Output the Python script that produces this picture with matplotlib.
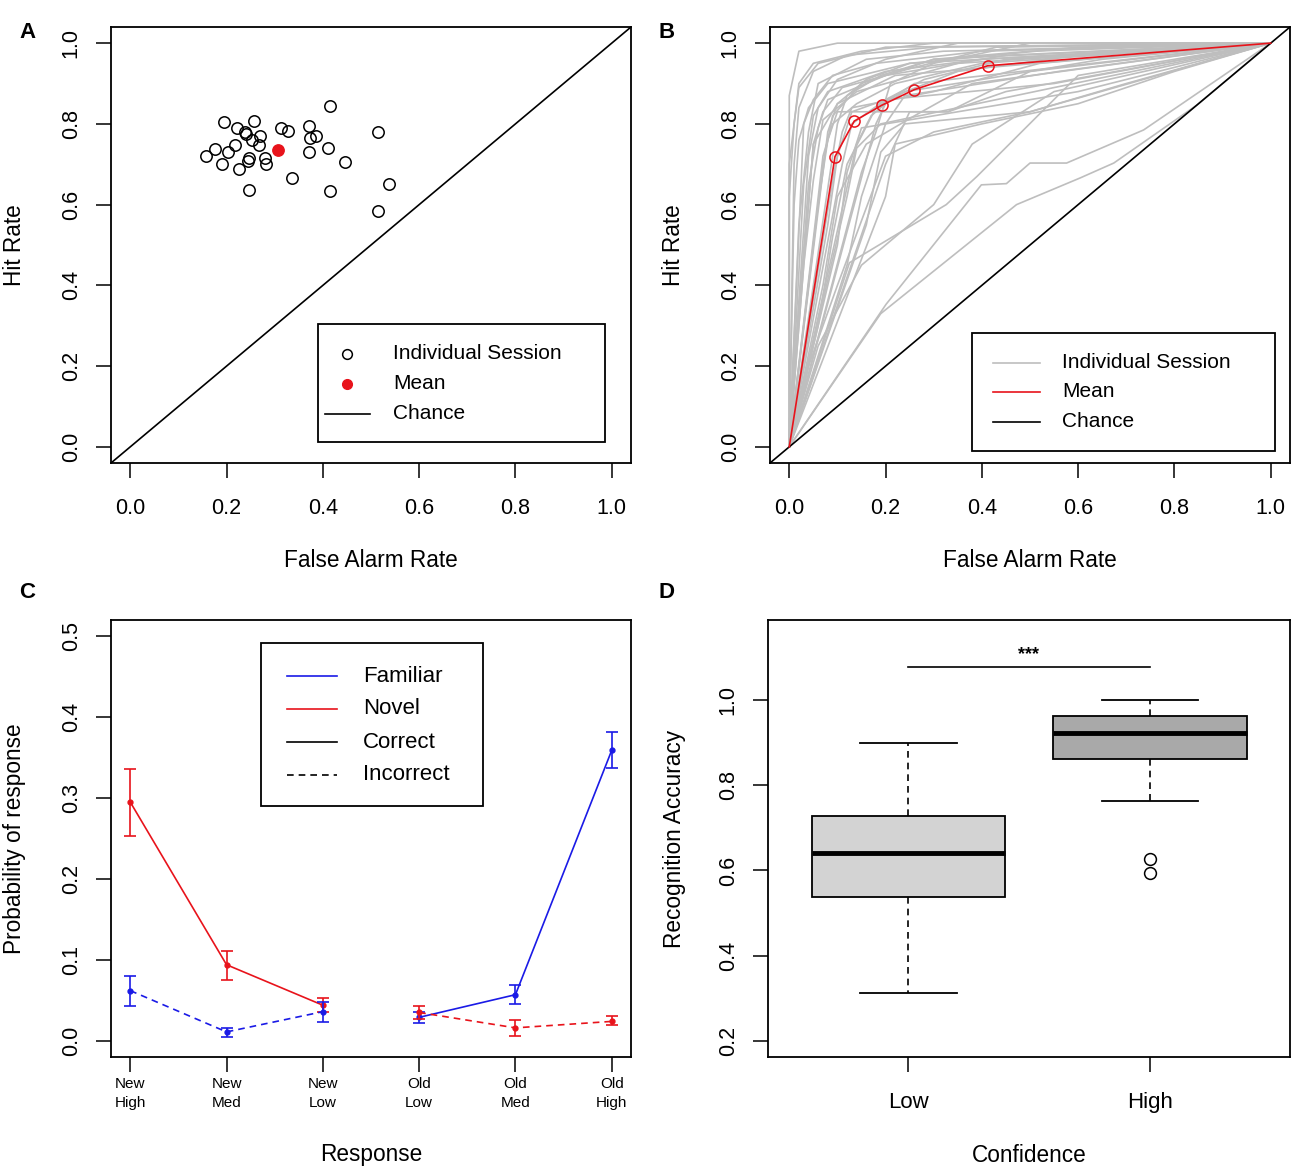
import matplotlib
matplotlib.use("Agg")
import matplotlib.pyplot as plt
from matplotlib.patches import Rectangle

plt.rcParams['font.family'] = ['Liberation Sans', 'DejaVu Sans']

# ---------------- Data ----------------
# Panel A: individual sessions (false alarm rate, hit rate)
sess_fa = [0.414, 0.195, 0.258, 0.221, 0.238, 0.241, 0.270, 0.252, 0.267, 0.218,
           0.175, 0.204, 0.157, 0.191, 0.225, 0.247, 0.245, 0.279, 0.281, 0.313,
           0.328, 0.371, 0.374, 0.385, 0.371, 0.410, 0.446, 0.335, 0.246, 0.414,
           0.514, 0.538, 0.514]
sess_hit = [0.844, 0.805, 0.807, 0.791, 0.779, 0.775, 0.769, 0.760, 0.748, 0.748,
            0.738, 0.730, 0.720, 0.701, 0.688, 0.715, 0.709, 0.715, 0.701, 0.791,
            0.783, 0.794, 0.765, 0.769, 0.730, 0.740, 0.705, 0.666, 0.637, 0.633,
            0.779, 0.651, 0.584]
mean_fa = 0.306
mean_hit = 0.736

# Panel B: ROC curves (interior points; each curve runs from (0,0) to (1,1))
roc_fa = [
    [0.00, 0.02, 0.10, 0.28, 0.50],
    [0.00, 0.01, 0.02, 0.06, 0.20],
    [0.01, 0.02, 0.05, 0.12, 0.30],
    [0.02, 0.04, 0.06, 0.16, 0.32],
    [0.03, 0.05, 0.09, 0.18, 0.40],
    [0.03, 0.05, 0.07, 0.14, 0.35],
    [0.04, 0.06, 0.08, 0.20, 0.45],
    [0.05, 0.07, 0.11, 0.26, 0.43],
    [0.05, 0.07, 0.09, 0.15, 0.30],
    [0.06, 0.08, 0.10, 0.33, 0.50],
    [0.07, 0.09, 0.14, 0.22, 0.40],
    [0.08, 0.10, 0.16, 0.25, 0.60],
    [0.08, 0.10, 0.13, 0.20, 0.55],
    [0.09, 0.11, 0.13, 0.30, 0.52],
    [0.10, 0.12, 0.19, 0.30, 0.50],
    [0.10, 0.12, 0.15, 0.30, 0.60],
    [0.11, 0.13, 0.20, 0.28, 0.45],
    [0.12, 0.14, 0.19, 0.35, 0.55],
    [0.12, 0.15, 0.20, 0.24, 0.56],
    [0.14, 0.17, 0.22, 0.35, 0.60],
    [0.15, 0.18, 0.21, 0.30, 0.50],
    [0.16, 0.19, 0.24, 0.50, 0.70],
    [0.18, 0.20, 0.24, 0.40, 0.65],
    [0.02, 0.04, 0.05, 0.10, 0.22],
    [0.125, 0.326, 0.390, 0.600],
    [0.190, 0.472, 0.604, 0.674, 0.847],
    [0.201, 0.399, 0.451, 0.500, 0.576, 0.736],
    [0.06, 0.15, 0.30, 0.38, 0.55],
    [0.04, 0.10, 0.20, 0.30, 0.50],
    [0.10, 0.20, 0.25, 0.33, 0.45],
    [0.00, 0.02, 0.05, 0.15, 0.30],
    [0.01, 0.02, 0.04, 0.08, 0.25],
    [0.06, 0.09, 0.12, 0.18, 0.26],
    [0.20, 0.22, 0.40, 0.60, 0.80],
    [0.04, 0.06, 0.10, 0.20, 0.35],
    [0.07, 0.10, 0.16, 0.26, 0.38],
    [0.03, 0.05, 0.08, 0.20, 0.40],
]
roc_hit = [
    [0.87, 0.98, 1.00, 1.00, 1.00],
    [0.62, 0.80, 0.89, 0.95, 0.99],
    [0.70, 0.84, 0.93, 0.97, 0.99],
    [0.55, 0.78, 0.90, 0.96, 0.98],
    [0.80, 0.86, 0.92, 0.95, 0.98],
    [0.45, 0.66, 0.81, 0.88, 0.95],
    [0.65, 0.79, 0.86, 0.92, 0.97],
    [0.75, 0.83, 0.89, 0.94, 0.99],
    [0.50, 0.70, 0.82, 0.90, 0.96],
    [0.60, 0.76, 0.83, 0.83, 0.93],
    [0.72, 0.80, 0.85, 0.90, 0.95],
    [0.78, 0.85, 0.91, 0.95, 0.99],
    [0.55, 0.72, 0.83, 0.86, 0.90],
    [0.66, 0.78, 0.84, 0.88, 0.95],
    [0.80, 0.87, 0.92, 0.96, 0.98],
    [0.50, 0.68, 0.79, 0.82, 0.88],
    [0.70, 0.80, 0.86, 0.91, 0.96],
    [0.62, 0.74, 0.80, 0.84, 0.89],
    [0.45, 0.62, 0.80, 0.87, 0.93],
    [0.75, 0.82, 0.87, 0.93, 0.97],
    [0.68, 0.78, 0.90, 0.95, 1.00],
    [0.55, 0.73, 0.80, 0.83, 0.90],
    [0.80, 0.85, 0.88, 0.91, 0.96],
    [0.35, 0.60, 0.75, 0.85, 0.92],
    [0.456, 0.600, 0.670, 0.920],
    [0.330, 0.600, 0.666, 0.703, 0.847],
    [0.353, 0.649, 0.652, 0.703, 0.703, 0.785],
    [0.25, 0.45, 0.60, 0.75, 0.88],
    [0.20, 0.40, 0.72, 0.78, 0.83],
    [0.35, 0.70, 0.83, 0.83, 0.88],
    [0.70, 0.90, 0.95, 0.98, 1.00],
    [0.60, 0.76, 0.84, 0.90, 0.95],
    [0.30, 0.52, 0.70, 0.84, 0.90],
    [0.62, 0.75, 0.80, 0.85, 0.93],
    [0.72, 0.84, 0.91, 0.96, 1.00],
    [0.40, 0.62, 0.75, 0.82, 0.90],
    [0.65, 0.82, 0.88, 0.93, 0.96],
]
roc_mean_fa = [0.0, 0.095, 0.135, 0.192, 0.260, 0.412, 1.0]
roc_mean_hit = [0.0, 0.719, 0.807, 0.846, 0.885, 0.944, 1.0]

# Panel C: response probabilities
resp_labels = ["New\nHigh", "New\nMed", "New\nLow", "Old\nLow", "Old\nMed", "Old\nHigh"]
new_pos = [1, 2, 3]
old_pos = [4, 5, 6]
novel_correct = [0.295, 0.094, 0.044]
novel_correct_lo = [0.253, 0.075, 0.036]
novel_correct_hi = [0.336, 0.111, 0.053]
familiar_incorrect = [0.062, 0.011, 0.036]
familiar_incorrect_lo = [0.043, 0.005, 0.023]
familiar_incorrect_hi = [0.080, 0.016, 0.048]
familiar_correct = [0.029, 0.057, 0.359]
familiar_correct_lo = [0.022, 0.045, 0.337]
familiar_correct_hi = [0.035, 0.069, 0.382]
novel_incorrect = [0.035, 0.016, 0.024]
novel_incorrect_lo = [0.027, 0.006, 0.019]
novel_incorrect_hi = [0.043, 0.026, 0.031]

# Panel D: recognition accuracy box plots
conf_labels = ["Low", "High"]
box_med = [0.642, 0.922]
box_q1 = [0.538, 0.862]
box_q3 = [0.729, 0.963]
box_wlo = [0.313, 0.762]
box_whi = [0.899, 1.000]
box_fliers = [[], [0.627, 0.595]]
sig_y = 1.078
sig_text_y = 1.107

# ---------------- Figure ----------------
FW, FH = 1300, 1175
fig = plt.figure(figsize=(FW / 100, FH / 100), dpi=100)


def make_axes(l, t, r, b):
    ax = fig.add_axes([l / FW, 1 - b / FH, (r - l) / FW, (b - t) / FH])
    ax._pxbox = (l, t, r, b)
    return ax


def rstyle(ax, xpad=15, ypad=10.5):
    for s in ax.spines.values():
        s.set_linewidth(1.3)
        s.set_color('black')
    ax.tick_params(direction='out', length=10.5, width=1.1, labelsize=15.5,
                   top=False, right=False, color='black')
    ax.tick_params(axis='x', pad=xpad)
    ax.tick_params(axis='y', pad=ypad)
    plt.setp(ax.get_yticklabels(), rotation=90, va='center')


def px2ax(ax, px, py):
    l, t, r, b = ax._pxbox
    return (px - l) / (r - l), (b - py) / (b - t)


def labels(ax, xlabel, ylabel, xlab_py, ylab_px):
    ax.set_xlabel(xlabel, fontsize=16.3)
    ax.set_ylabel(ylabel, fontsize=16.3)
    ax.xaxis.set_label_coords(0.5, px2ax(ax, 0, xlab_py)[1])
    ax.yaxis.set_label_coords(px2ax(ax, ylab_px, 0)[0], 0.5)
    ax.xaxis.label.set_va('center')
    ax.yaxis.label.set_va('center')


def legend_manual(ax, box, rows, handle_x, text_x, entries, fontsize):
    x0, y0 = px2ax(ax, box[0], box[3])
    x1, y1 = px2ax(ax, box[2], box[1])
    ax.add_patch(Rectangle((x0, y0), x1 - x0, y1 - y0, transform=ax.transAxes,
                           facecolor='white', edgecolor='black', lw=1.3,
                           zorder=10, clip_on=False))
    for (kind, style, label), py in zip(entries, rows):
        tx, ty = px2ax(ax, text_x, py)
        if kind == 'marker':
            hx, _ = px2ax(ax, handle_x[0], py)
            ax.plot([hx], [ty], transform=ax.transAxes, zorder=11, clip_on=False, **style)
        else:
            hx0, _ = px2ax(ax, handle_x[1], py)
            hx1, _ = px2ax(ax, handle_x[2], py)
            ax.plot([hx0, hx1], [ty, ty], transform=ax.transAxes, zorder=11,
                    clip_on=False, **style)
        ax.text(tx, ty, label, transform=ax.transAxes, fontsize=fontsize,
                ha='left', va='center', zorder=12)


ticks01 = [0.0, 0.2, 0.4, 0.6, 0.8, 1.0]
tick01_labels = ["0.0", "0.2", "0.4", "0.6", "0.8", "1.0"]
RED = '#E8131B'
BLUE = '#1A1AE6'

# ---- Panel A ----
axA = make_axes(111, 27, 631, 463)
axA.set_xlim(-0.04, 1.04)
axA.set_ylim(-0.04, 1.04)
axA.axline((0, 0), (1, 1), color='black', lw=1.2)
axA.plot(sess_fa, sess_hit, 'o', mfc='none', mec='black', ms=8.2, mew=1.1)
axA.plot([mean_fa], [mean_hit], 'o', color=RED, ms=8.2)
axA.set_xticks(ticks01, tick01_labels)
axA.set_yticks(ticks01, tick01_labels)
rstyle(axA)
labels(axA, "False Alarm Rate", "Hit Rate", 561, 15)
legend_manual(axA, (318, 324, 605, 442), [354, 384, 414], (347, 325, 370), 393,
              [('marker', dict(marker='o', mfc='none', mec='black', ms=7, mew=1.1, ls='none'), "Individual Session"),
               ('marker', dict(marker='o', color=RED, ms=7, ls='none'), "Mean"),
               ('line', dict(color='black', lw=1.2), "Chance")], 15)

# ---- Panel B ----
axB = make_axes(770, 27, 1290, 463)
axB.set_xlim(-0.04, 1.04)
axB.set_ylim(-0.04, 1.04)
for fa, hit in zip(roc_fa, roc_hit):
    axB.plot([0.0] + fa + [1.0], [0.0] + hit + [1.0], color='#BEBEBE', lw=1.2)
axB.axline((0, 0), (1, 1), color='black', lw=1.2)
axB.plot(roc_mean_fa, roc_mean_hit, color=RED, lw=1.2)
axB.plot(roc_mean_fa[1:-1], roc_mean_hit[1:-1], 'o', mfc='none', mec=RED, ms=8, mew=1.1)
axB.set_xticks(ticks01, tick01_labels)
axB.set_yticks(ticks01, tick01_labels)
rstyle(axB)
labels(axB, "False Alarm Rate", "Hit Rate", 561, 674)
legend_manual(axB, (972, 333, 1275, 451), [363, 392, 422], (0, 993, 1040), 1062,
              [('line', dict(color='#BEBEBE', lw=1.2), "Individual Session"),
               ('line', dict(color=RED, lw=1.2), "Mean"),
               ('line', dict(color='black', lw=1.2), "Chance")], 15)

# ---- Panel C ----
axC = make_axes(111, 620, 631, 1057)
axC.set_xlim(0.8, 6.2)
axC.set_ylim(-0.02, 0.52)
dash = (0, (4, 3))
series = [
    (new_pos, novel_correct, novel_correct_lo, novel_correct_hi, RED, '-'),
    (new_pos, familiar_incorrect, familiar_incorrect_lo, familiar_incorrect_hi, BLUE, dash),
    (old_pos, familiar_correct, familiar_correct_lo, familiar_correct_hi, BLUE, '-'),
    (old_pos, novel_incorrect, novel_incorrect_lo, novel_incorrect_hi, RED, dash),
]
for xs, ys, lo, hi, c, ls in series:
    axC.plot(xs, ys, color=c, lw=1.2, ls=ls)
    axC.errorbar(xs, ys, yerr=[[y - l for y, l in zip(ys, lo)], [h - y for y, h in zip(ys, hi)]],
                 fmt='none', ecolor=c, elinewidth=1.2, capsize=4.5, capthick=1.2)
    axC.plot(xs, ys, 'o', color=c, ms=3.5)
axC.set_xticks(new_pos + old_pos, resp_labels)
axC.set_yticks([0.0, 0.1, 0.2, 0.3, 0.4, 0.5], ["0.0", "0.1", "0.2", "0.3", "0.4", "0.5"])
rstyle(axC, xpad=4)
for t in axC.get_xticklabels():
    t.set_fontsize(11)
    t.set_linespacing(1.45)
labels(axC, "Response", "Probability of response", 1155, 15)
legend_manual(axC, (261, 643, 483, 806), [676, 709, 742, 775], (0, 287, 337), 363,
              [('line', dict(color=BLUE, lw=1.2), "Familiar"),
               ('line', dict(color=RED, lw=1.2), "Novel"),
               ('line', dict(color='black', lw=1.2), "Correct"),
               ('line', dict(color='black', lw=1.2, ls=dash), "Incorrect")], 16)

# ---- Panel D ----
axD = make_axes(768, 620, 1290, 1057)
stats = []
for i in range(2):
    stats.append(dict(med=box_med[i], q1=box_q1[i], q3=box_q3[i],
                      whislo=box_wlo[i], whishi=box_whi[i], fliers=box_fliers[i]))
bp = axD.bxp(stats, positions=[1, 2], widths=0.8, capwidths=0.4, patch_artist=True,
             boxprops=dict(lw=1.3, edgecolor='black'),
             medianprops=dict(color='black', lw=3.5, solid_capstyle='butt'),
             whiskerprops=dict(color='black', lw=1.2, ls=(0, (4, 3))),
             capprops=dict(color='black', lw=1.3),
             flierprops=dict(marker='o', mfc='none', mec='black', ms=8.5, mew=1.1))
for patch, fc in zip(bp['boxes'], ['#D3D3D3', '#A9A9A9']):
    patch.set_facecolor(fc)
axD.plot([1, 2], [sig_y, sig_y], color='black', lw=1.2)
axD.text(1.5, sig_text_y, "***", ha='center', va='center', fontsize=13, fontweight='bold')
axD.set_xlim(0.42, 2.58)
axD.set_ylim(0.162, 1.188)
axD.set_xticks([1, 2], conf_labels)
axD.set_yticks([0.2, 0.4, 0.6, 0.8, 1.0], ["0.2", "0.4", "0.6", "0.8", "1.0"])
rstyle(axD)
for t in axD.get_xticklabels():
    t.set_fontsize(16)
labels(axD, "Confidence", "Recognition Accuracy", 1155, 674)

# Panel letters
for letter, (px, py) in zip("ABCD", [(27, 33), (667, 33), (27, 593), (667, 593)]):
    fig.text(px / FW, 1 - py / FH, letter, fontsize=16, fontweight='bold',
             ha='center', va='center')

fig.savefig("out.png", dpi=100, facecolor='white')
